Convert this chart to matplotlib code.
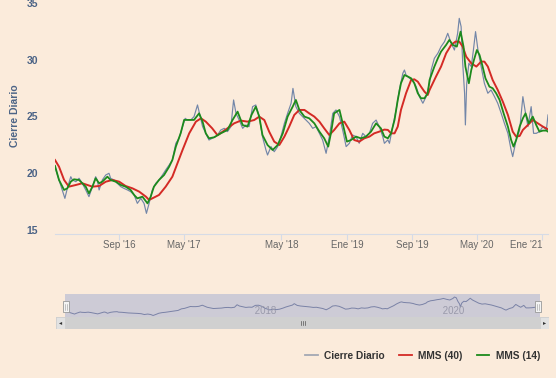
import matplotlib
matplotlib.use("Agg")
import matplotlib.pyplot as plt
import matplotlib.transforms as mtransforms
from matplotlib.lines import Line2D
from matplotlib.patches import Rectangle
import pandas as pd

plt.rcParams['font.family'] = ['Liberation Sans', 'DejaVu Sans']

# daily close
close_dates = [
    "2016-01-05", "2016-01-20", "2016-02-01", "2016-02-11", "2016-02-20", "2016-03-04", "2016-03-10",
    "2016-03-23", "2016-04-04", "2016-04-16", "2016-04-29", "2016-05-11", "2016-05-24", "2016-06-05",
    "2016-06-11", "2016-06-18", "2016-06-30", "2016-07-13", "2016-07-25", "2016-07-31", "2016-08-13",
    "2016-08-25", "2016-09-07", "2016-09-19", "2016-10-02", "2016-10-14", "2016-10-27", "2016-11-08",
    "2016-11-21", "2016-12-03", "2016-12-12", "2016-12-22",
    "2017-01-03", "2017-01-16", "2017-01-28", "2017-02-10", "2017-02-22", "2017-03-07", "2017-03-19",
    "2017-04-01", "2017-04-13", "2017-04-26", "2017-05-06", "2017-05-14", "2017-05-27", "2017-06-08",
    "2017-06-21", "2017-06-27", "2017-07-10", "2017-07-22", "2017-08-03", "2017-08-15", "2017-08-28",
    "2017-09-04", "2017-09-16", "2017-09-29", "2017-10-11", "2017-10-24", "2017-11-03", "2017-11-12",
    "2017-11-24", "2017-12-07", "2017-12-19", "2017-12-31",
    "2018-01-13", "2018-01-25", "2018-02-07", "2018-02-19", "2018-03-04", "2018-03-10", "2018-03-23",
    "2018-04-04", "2018-04-17", "2018-04-29", "2018-05-12", "2018-05-24", "2018-06-06", "2018-06-13",
    "2018-06-24", "2018-07-07", "2018-07-19", "2018-08-01", "2018-08-13", "2018-08-26", "2018-09-07",
    "2018-09-20", "2018-10-02", "2018-10-15", "2018-10-27", "2018-11-09", "2018-11-21", "2018-12-04",
    "2018-12-16", "2018-12-29",
    "2019-01-10", "2019-01-22", "2019-02-04", "2019-02-16", "2019-03-01", "2019-03-13", "2019-03-26",
    "2019-04-07", "2019-04-20", "2019-05-02", "2019-05-15", "2019-05-21", "2019-06-03", "2019-06-09",
    "2019-06-21", "2019-07-04", "2019-07-16", "2019-07-29", "2019-08-04", "2019-08-10", "2019-08-23",
    "2019-09-04", "2019-09-17", "2019-09-29", "2019-10-12", "2019-10-24", "2019-11-06", "2019-11-12",
    "2019-11-24", "2019-12-07", "2019-12-19",
    "2020-01-01", "2020-01-13", "2020-01-26", "2020-02-07", "2020-02-19", "2020-02-25", "2020-03-03",
    "2020-03-09", "2020-03-16", "2020-03-19", "2020-03-24", "2020-04-01", "2020-04-10", "2020-04-18",
    "2020-04-26", "2020-05-05", "2020-05-17", "2020-05-29", "2020-06-11", "2020-06-23", "2020-07-06",
    "2020-07-18", "2020-07-31", "2020-08-12", "2020-08-25", "2020-09-06", "2020-09-12", "2020-09-25",
    "2020-10-08", "2020-10-20", "2020-10-30", "2020-11-08", "2020-11-20", "2020-11-29", "2020-12-09",
    "2020-12-21",
    "2021-01-03", "2021-01-16", "2021-01-22",
]
close_values = [
    20.93, 19.76, 18.88, 18.14, 19.02, 20.05, 19.76,
    19.61, 19.91, 19.47, 18.88, 18.29, 19.17, 20.05,
    19.76, 18.88, 19.76, 20.20, 20.35, 19.91, 19.76,
    19.47, 19.17, 19.02, 18.88, 18.73, 18.44, 17.70,
    18.14, 17.70, 16.82, 17.70,
    18.88, 19.47, 19.76, 20.20, 20.64, 21.08, 21.52,
    22.99, 23.43, 24.46, 25.19, 25.05, 25.05, 25.34,
    26.37, 25.78, 24.46, 23.87, 23.28, 23.43, 23.58,
    23.72, 24.16, 24.31, 24.02, 24.46, 26.81, 25.63,
    25.04, 24.31, 24.60, 24.46,
    26.22, 26.37, 25.34, 23.58, 22.40, 21.96, 22.70,
    22.25, 22.70, 23.58, 24.75, 25.63, 26.51, 27.83,
    26.22, 25.63, 25.34, 25.04, 24.75, 24.31, 24.46,
    23.87, 23.28, 22.11, 23.58, 25.63, 25.93, 25.34,
    24.16, 22.70,
    22.99, 23.72, 23.58, 22.99, 23.87, 23.58, 23.87,
    24.75, 25.04, 24.46, 23.58, 22.99, 23.29, 22.99,
    24.46, 25.93, 27.69, 29.16, 29.45, 29.01, 28.72,
    28.57, 27.98, 27.10, 26.52, 27.10, 28.28, 29.45,
    30.48, 30.92, 31.51,
    31.95, 32.68, 31.80, 31.21, 32.68, 34.00, 33.27,
    30.04, 27.40, 24.61, 28.28, 30.04, 29.75, 31.21,
    32.83, 31.21, 29.75, 28.28, 27.40, 27.69, 27.10,
    26.52, 25.63, 24.75, 23.87, 22.40, 21.82, 23.29,
    24.17, 27.10, 25.63, 24.46, 26.22, 23.87, 23.87,
    24.02,
    24.46, 24.17, 25.49,
]

# MMS (14)
mms14_dates = [
    "2016-01-05", "2016-01-20", "2016-02-08", "2016-02-20", "2016-03-04", "2016-03-16", "2016-04-04",
    "2016-04-16", "2016-04-29", "2016-05-11", "2016-05-24", "2016-06-05", "2016-06-18", "2016-06-30",
    "2016-07-19", "2016-07-31", "2016-08-19", "2016-09-07", "2016-09-25", "2016-10-14", "2016-10-27",
    "2016-11-08", "2016-11-27", "2016-12-16", "2016-12-28",
    "2017-01-09", "2017-01-28", "2017-02-16", "2017-03-07", "2017-03-19", "2017-04-01", "2017-04-19",
    "2017-05-02", "2017-05-21", "2017-06-08", "2017-06-27", "2017-07-10", "2017-07-22", "2017-08-03",
    "2017-08-22", "2017-09-16", "2017-10-11", "2017-10-30", "2017-11-18", "2017-12-07", "2017-12-25",
    "2018-01-09", "2018-01-25", "2018-02-07", "2018-02-19", "2018-03-10", "2018-03-29", "2018-04-17",
    "2018-05-06", "2018-05-24", "2018-06-12", "2018-06-24", "2018-07-07", "2018-07-26", "2018-08-13",
    "2018-09-01", "2018-09-20", "2018-10-08", "2018-10-23", "2018-11-02", "2018-11-14", "2018-12-04",
    "2018-12-16",
    "2019-01-01", "2019-01-16", "2019-02-04", "2019-02-22", "2019-03-13", "2019-04-01", "2019-04-20",
    "2019-05-08", "2019-05-21", "2019-06-03", "2019-06-15", "2019-06-28", "2019-07-10", "2019-07-22",
    "2019-08-04", "2019-08-17", "2019-08-29", "2019-09-10", "2019-09-23", "2019-10-05", "2019-10-18",
    "2019-10-30", "2019-11-06", "2019-11-24", "2019-12-07", "2019-12-19",
    "2020-01-07", "2020-01-19", "2020-02-01", "2020-02-16", "2020-03-01", "2020-03-12", "2020-03-19",
    "2020-04-01", "2020-04-10", "2020-04-20", "2020-05-01", "2020-05-11", "2020-05-21", "2020-06-02",
    "2020-06-17", "2020-06-29", "2020-07-12", "2020-07-25", "2020-08-09", "2020-08-25", "2020-09-06",
    "2020-09-15", "2020-09-25", "2020-10-08", "2020-10-20", "2020-10-30", "2020-11-11", "2020-11-26",
    "2020-12-09", "2020-12-21",
    "2021-01-03", "2021-01-16", "2021-01-22",
]
mms14_values = [
    21.00, 19.76, 18.88, 19.02, 19.61, 19.82, 19.76,
    19.47, 19.17, 18.58, 19.17, 19.91, 19.47, 19.61,
    20.05, 19.76, 19.61, 19.32, 19.17, 18.88, 18.44,
    18.14, 18.29, 17.70, 18.29,
    19.17, 19.76, 20.20, 20.93, 21.52, 22.70, 23.87,
    25.05, 25.05, 25.05, 25.63, 24.90, 23.87, 23.43,
    23.52, 23.87, 24.16, 25.04, 25.78, 24.60, 24.46,
    25.49, 26.22, 25.34, 23.72, 22.84, 22.40, 22.84,
    23.87, 25.34, 26.22, 26.81, 25.93, 25.34, 25.19,
    24.75, 24.02, 23.43, 22.70, 23.87, 25.63, 25.93,
    24.75,
    23.14, 23.28, 23.58, 23.43, 23.58, 24.02, 24.75,
    24.31, 23.58, 23.43, 23.87, 25.05, 26.81, 28.28,
    29.01, 28.87, 28.72, 28.28, 27.40, 26.96, 26.96,
    27.40, 28.57, 29.75, 30.48, 31.07,
    31.66, 32.10, 31.66, 31.51, 32.83, 31.51, 29.75,
    28.28, 29.45, 30.33, 31.21, 30.77, 29.89, 28.72,
    27.98, 27.84, 27.40, 26.81, 25.63, 24.46, 23.29,
    22.70, 23.29, 24.46, 25.19, 25.63, 24.75, 25.34,
    24.60, 24.02,
    24.11, 24.11, 24.02,
]

# MMS (40)
mms40_dates = [
    "2016-01-05", "2016-01-20", "2016-02-08", "2016-02-26", "2016-03-23", "2016-04-16", "2016-05-24",
    "2016-06-18", "2016-07-13", "2016-08-07", "2016-09-01", "2016-09-25", "2016-10-21", "2016-11-15",
    "2016-12-10", "2016-12-22",
    "2017-01-03", "2017-01-28", "2017-02-22", "2017-03-19", "2017-04-07", "2017-04-26", "2017-05-21",
    "2017-06-15", "2017-07-04", "2017-07-22", "2017-08-15", "2017-09-04", "2017-10-11", "2017-11-05",
    "2017-11-30", "2017-12-25",
    "2018-01-19", "2018-02-07", "2018-02-26", "2018-03-16", "2018-04-04", "2018-04-23", "2018-05-12",
    "2018-05-30", "2018-06-18", "2018-07-07", "2018-07-26", "2018-08-13", "2018-09-01", "2018-09-20",
    "2018-10-08", "2018-10-27", "2018-11-14", "2018-12-04", "2018-12-22",
    "2019-01-10", "2019-01-28", "2019-02-16", "2019-03-07", "2019-03-26", "2019-04-13", "2019-05-02",
    "2019-05-21", "2019-06-03", "2019-06-15", "2019-06-28", "2019-07-10", "2019-07-22", "2019-08-10",
    "2019-08-29", "2019-09-10", "2019-09-23", "2019-10-05", "2019-10-18", "2019-10-30", "2019-11-06",
    "2019-11-30", "2019-12-19",
    "2020-01-07", "2020-01-26", "2020-02-11", "2020-02-25", "2020-03-09", "2020-03-22", "2020-04-10",
    "2020-04-29", "2020-05-17", "2020-05-29", "2020-06-11", "2020-06-29", "2020-07-18", "2020-08-06",
    "2020-08-25", "2020-09-12", "2020-09-25", "2020-10-08", "2020-10-20", "2020-11-08", "2020-11-26",
    "2020-12-15",
    "2021-01-03", "2021-01-22",
]
mms40_values = [
    21.52, 20.93, 19.76, 19.17, 19.32, 19.47, 19.17,
    19.23, 19.61, 19.76, 19.61, 19.23, 19.02, 18.73,
    18.29, 18.00,
    18.14, 18.44, 19.17, 20.05, 21.23, 22.40, 23.87,
    24.90, 25.19, 24.90, 24.31, 23.70, 24.31, 24.75,
    24.99, 24.90,
    25.04, 25.34, 25.04, 24.02, 23.14, 22.84, 23.58,
    24.46, 25.49, 25.93, 25.93, 25.63, 25.34, 24.90,
    24.31, 23.72, 24.16, 24.75, 24.90,
    24.16, 23.28, 23.14, 23.43, 23.58, 23.87, 24.02,
    24.20, 24.17, 23.87, 23.87, 24.46, 25.93, 27.40,
    28.57, 28.63, 28.42, 27.98, 27.54, 27.25, 27.69,
    28.87, 29.75,
    30.92, 31.66, 31.95, 31.95, 31.51, 30.63, 30.04,
    29.75, 30.19, 30.19, 29.75, 28.57, 27.69, 26.66,
    25.49, 24.02, 23.58, 23.64, 24.17, 24.61, 25.05,
    24.75,
    24.46, 24.22,
]

tick_dates = ["2016-09-01", "2017-05-01", "2018-05-01", "2019-01-01", "2019-09-01", "2020-05-01", "2021-01-01"]
tick_labels = ["Sep '16", "May '17", "May '18", "Ene '19", "Sep '19", "May '20", "Ene '21"]
nav_years = ["2018", "2020"]

series_names = ["Cierre Diario", "MMS (40)", "MMS (14)"]

BG = "#fbebdb"
C_CLOSE = "#7286a8"
C_40 = "#d42a25"
C_14 = "#1c8a1c"
LABEL_BLUE = "#4b6386"

cd = pd.to_datetime(close_dates)
d14 = pd.to_datetime(mms14_dates)
d40 = pd.to_datetime(mms40_dates)
xmin, xmax = cd[0], cd[-1]

W, H = 556, 378
fig = plt.figure(figsize=(W / 100, H / 100), dpi=100)
fig.set_facecolor(BG)

def px_axes(x0, y0, x1, y1):
    # pixel box (top-left origin) -> figure axes
    return fig.add_axes([x0 / W, 1 - y1 / H, (x1 - x0) / W, (y1 - y0) / H])

# main chart
ax = px_axes(55, 7, 548, 234)
ax.set_facecolor("none")
ax.plot(cd, close_values, color=C_CLOSE, lw=0.85, zorder=2)
ax.plot(d40, mms40_values, color=C_40, lw=1.4, zorder=3)
ax.plot(d14, mms14_values, color=C_14, lw=1.3, zorder=4)
ax.set_xlim(xmin, xmax)
ax.set_ylim(15, 35)
ax.set_yticks([15, 20, 25, 30, 35])
for s in ["top", "right", "left"]:
    ax.spines[s].set_visible(False)
ax.spines["bottom"].set_color("#d6dbe6")
ax.tick_params(axis="y", length=0, pad=12, labelsize=7.5, labelcolor=LABEL_BLUE)
# highcharts puts y labels a few px above the value
up = mtransforms.ScaledTranslation(0, 4 / 100, fig.dpi_scale_trans)
for t in ax.get_yticklabels():
    t.set_fontweight("bold")
    t.set_transform(t.get_transform() + up)
ax.set_xticks(pd.to_datetime(tick_dates))
ax.set_xticklabels(tick_labels)
ax.tick_params(axis="x", length=4, color="#d6dbe6", pad=0.5, labelsize=7, labelcolor="#666666")
ax.get_xticklabels()[-1].set_horizontalalignment("right")
ax.set_ylabel("Cierre Diario", fontsize=7.5, fontweight="bold", color=LABEL_BLUE)
ax.yaxis.set_label_coords(-0.071, 0.52)

# navigator
nav = px_axes(65, 294, 540, 317)
nav.set_facecolor("#cdcbd6")
nav.plot(cd, close_values, color="#7a82a6", lw=0.7)
nav.set_xlim(xmin, xmax)
nav.set_ylim(15.4, 36.8)
nav.set_xticks([])
nav.set_yticks([])
for s in nav.spines.values():
    s.set_visible(False)
for yr in nav_years:
    nav.text(pd.Timestamp(yr + "-01-01"), 16.3, " " + yr, fontsize=7, color="#9a9aab",
             ha="left", va="bottom")
for frac in [0.002, 0.996]:
    nav.add_patch(Rectangle((frac - 0.006, 0.2), 0.012, 0.48, transform=nav.transAxes,
                            facecolor="#f4f4f4", edgecolor="#999999", lw=0.6, zorder=5, clip_on=False))
    nav.plot([frac - 0.0015, frac - 0.0015], [0.3, 0.58], transform=nav.transAxes, color="#999999",
             lw=0.4, zorder=6, clip_on=False)
    nav.plot([frac + 0.0015, frac + 0.0015], [0.3, 0.58], transform=nav.transAxes, color="#999999",
             lw=0.4, zorder=6, clip_on=False)

# scrollbar
sb = px_axes(56, 317, 549, 329)
sb.set_xlim(56, 549)
sb.set_ylim(0, 1)
sb.axis("off")
sb.add_patch(Rectangle((56, 0), 493, 1, facecolor="#d0d0d0", edgecolor="none"))
sb.add_patch(Rectangle((56, 0), 9, 1, facecolor="#e2e2e2", edgecolor="#cccccc", lw=0.4))
sb.add_patch(Rectangle((540, 0), 9, 1, facecolor="#e2e2e2", edgecolor="#cccccc", lw=0.4))
sb.text(60.5, 0.5, "◂", fontsize=4.5, ha="center", va="center", color="#333333",
        family=["DejaVu Sans"])
sb.text(544.5, 0.5, "▸", fontsize=4.5, ha="center", va="center", color="#333333",
        family=["DejaVu Sans"])
for gx in [300.5, 302.5, 304.5]:
    sb.plot([gx, gx], [0.3, 0.7], color="#555555", lw=0.5)

# legend
handles = [
    Line2D([], [], color="#a3a8b4", lw=1.3),
    Line2D([], [], color=C_40, lw=1.3),
    Line2D([], [], color=C_14, lw=1.3),
]
fig.legend(handles, series_names, loc="center right", bbox_to_anchor=(549 / W, 1 - 356 / H),
           ncol=3, frameon=False, handlelength=1.2, handletextpad=0.6, columnspacing=1.5,
           prop={"size": 7.3, "weight": "bold"}, labelcolor="#333333")

fig.savefig("out.png", dpi=100, facecolor=BG)
